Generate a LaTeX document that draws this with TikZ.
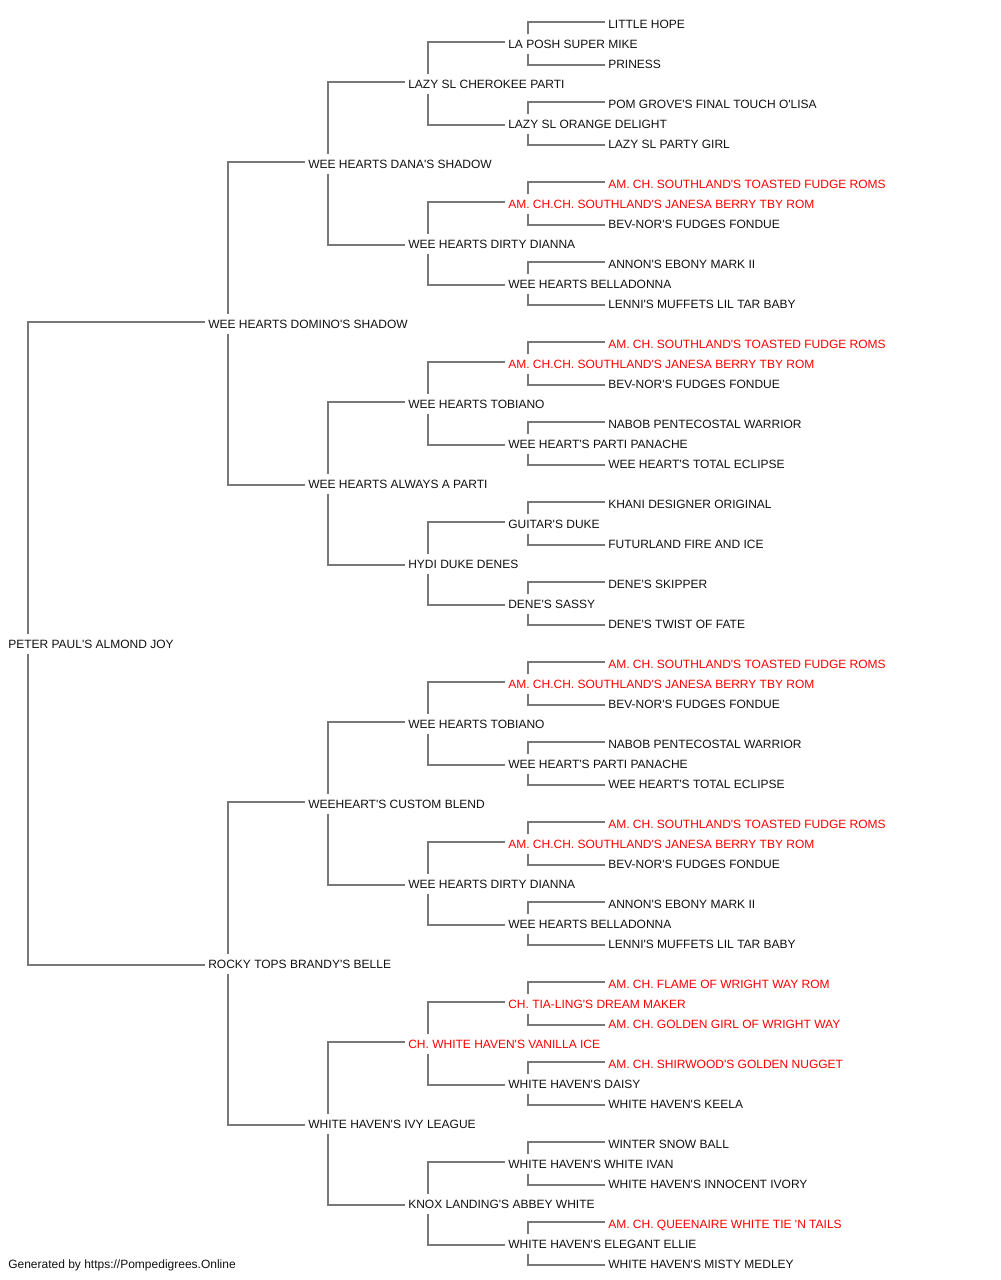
\documentclass[tikz,border=0pt]{standalone}
\usepackage{fontspec}
\setmainfont{Liberation Sans}[Ligatures=TeXOff]
\usetikzlibrary{calc}
\definecolor{linegray}{RGB}{120,120,120}
\definecolor{pedred}{RGB}{255,0,0}
\definecolor{pedtext}{RGB}{17,17,17}
\tikzset{
  pn/.style={anchor=west, inner xsep=2.25pt, inner ysep=0pt, minimum height=15pt,
    text height=6.45pt, text depth=0pt, font=\fontsize{9pt}{11pt}\selectfont, text=pedtext},
  pr/.style={pn, text=pedred},
  conn/.style={draw=linegray, line width=0.9pt}
}
\newcommand\pedn[3]{\node[pn] (n#1) at ({5+100*(#2+1)},{24+20*#1}) {#3};}
\newcommand\pedr[3]{\node[pr] (n#1) at ({5+100*(#2+1)},{24+20*#1}) {#3};}
\newcommand\pedlink[3]{%
  \draw[conn] ($(#2.west)+(0,-2)$) -| ($(#1.north west)+(23,0)$);
  \draw[conn] ($(#3.west)+(0,1)$) -| ($(#1.south west)+(23,0)$);
}
\begin{document}
\begin{tikzpicture}[x=0.75pt,y=-0.75pt]
\useasboundingbox (0,0) rectangle (1000,1280);
\pedn{0}{5}{LITTLE HOPE}
\pedn{1}{4}{LA POSH SUPER MIKE}
\pedn{2}{5}{PRINESS}
\pedn{3}{3}{LAZY SL CHEROKEE PARTI}
\pedn{4}{5}{POM GROVE'S FINAL TOUCH O'LISA}
\pedn{5}{4}{LAZY SL ORANGE DELIGHT}
\pedn{6}{5}{LAZY SL PARTY GIRL}
\pedn{7}{2}{WEE HEARTS DANA'S SHADOW}
\pedr{8}{5}{AM. CH. SOUTHLAND'S TOASTED FUDGE ROMS}
\pedr{9}{4}{AM. CH.CH. SOUTHLAND'S JANESA BERRY TBY ROM}
\pedn{10}{5}{BEV-NOR'S FUDGES FONDUE}
\pedn{11}{3}{WEE HEARTS DIRTY DIANNA}
\pedn{12}{5}{ANNON'S EBONY MARK II}
\pedn{13}{4}{WEE HEARTS BELLADONNA}
\pedn{14}{5}{LENNI'S MUFFETS LIL TAR BABY}
\pedn{15}{1}{WEE HEARTS DOMINO'S SHADOW}
\pedr{16}{5}{AM. CH. SOUTHLAND'S TOASTED FUDGE ROMS}
\pedr{17}{4}{AM. CH.CH. SOUTHLAND'S JANESA BERRY TBY ROM}
\pedn{18}{5}{BEV-NOR'S FUDGES FONDUE}
\pedn{19}{3}{WEE HEARTS TOBIANO}
\pedn{20}{5}{NABOB PENTECOSTAL WARRIOR}
\pedn{21}{4}{WEE HEART'S PARTI PANACHE}
\pedn{22}{5}{WEE HEART'S TOTAL ECLIPSE}
\pedn{23}{2}{WEE HEARTS ALWAYS A PARTI}
\pedn{24}{5}{KHANI DESIGNER ORIGINAL}
\pedn{25}{4}{GUITAR'S DUKE}
\pedn{26}{5}{FUTURLAND FIRE AND ICE}
\pedn{27}{3}{HYDI DUKE DENES}
\pedn{28}{5}{DENE'S SKIPPER}
\pedn{29}{4}{DENE'S SASSY}
\pedn{30}{5}{DENE'S TWIST OF FATE}
\pedn{31}{-1}{PETER PAUL'S ALMOND JOY}
\pedr{32}{5}{AM. CH. SOUTHLAND'S TOASTED FUDGE ROMS}
\pedr{33}{4}{AM. CH.CH. SOUTHLAND'S JANESA BERRY TBY ROM}
\pedn{34}{5}{BEV-NOR'S FUDGES FONDUE}
\pedn{35}{3}{WEE HEARTS TOBIANO}
\pedn{36}{5}{NABOB PENTECOSTAL WARRIOR}
\pedn{37}{4}{WEE HEART'S PARTI PANACHE}
\pedn{38}{5}{WEE HEART'S TOTAL ECLIPSE}
\pedn{39}{2}{WEEHEART'S CUSTOM BLEND}
\pedr{40}{5}{AM. CH. SOUTHLAND'S TOASTED FUDGE ROMS}
\pedr{41}{4}{AM. CH.CH. SOUTHLAND'S JANESA BERRY TBY ROM}
\pedn{42}{5}{BEV-NOR'S FUDGES FONDUE}
\pedn{43}{3}{WEE HEARTS DIRTY DIANNA}
\pedn{44}{5}{ANNON'S EBONY MARK II}
\pedn{45}{4}{WEE HEARTS BELLADONNA}
\pedn{46}{5}{LENNI'S MUFFETS LIL TAR BABY}
\pedn{47}{1}{ROCKY TOPS BRANDY'S BELLE}
\pedr{48}{5}{AM. CH. FLAME OF WRIGHT WAY ROM}
\pedr{49}{4}{CH. TIA-LING'S DREAM MAKER}
\pedr{50}{5}{AM. CH. GOLDEN GIRL OF WRIGHT WAY}
\pedr{51}{3}{CH. WHITE HAVEN'S VANILLA ICE}
\pedr{52}{5}{AM. CH. SHIRWOOD'S GOLDEN NUGGET}
\pedn{53}{4}{WHITE HAVEN'S DAISY}
\pedn{54}{5}{WHITE HAVEN'S KEELA}
\pedn{55}{2}{WHITE HAVEN'S IVY LEAGUE}
\pedn{56}{5}{WINTER SNOW BALL}
\pedn{57}{4}{WHITE HAVEN'S WHITE IVAN}
\pedn{58}{5}{WHITE HAVEN'S INNOCENT IVORY}
\pedn{59}{3}{KNOX LANDING'S ABBEY WHITE}
\pedr{60}{5}{AM. CH. QUEENAIRE WHITE TIE 'N TAILS}
\pedn{61}{4}{WHITE HAVEN'S ELEGANT ELLIE}
\pedn{62}{5}{WHITE HAVEN'S MISTY MEDLEY}
\node[pn] (footer) at (5,1264) {Generated by https://Pompedigrees.Online};
\foreach \i in {1,5,...,61} {%
  \pgfmathtruncatemacro\s{\i-1}\pgfmathtruncatemacro\d{\i+1}%
  \pedlink{n\i}{n\s}{n\d}}
\foreach \i in {3,11,...,59} {%
  \pgfmathtruncatemacro\s{\i-2}\pgfmathtruncatemacro\d{\i+2}%
  \pedlink{n\i}{n\s}{n\d}}
\foreach \i in {7,23,39,55} {%
  \pgfmathtruncatemacro\s{\i-4}\pgfmathtruncatemacro\d{\i+4}%
  \pedlink{n\i}{n\s}{n\d}}
\foreach \i in {15,47} {%
  \pgfmathtruncatemacro\s{\i-8}\pgfmathtruncatemacro\d{\i+8}%
  \pedlink{n\i}{n\s}{n\d}}
\pedlink{n31}{n15}{n47}
\end{tikzpicture}
\end{document}
